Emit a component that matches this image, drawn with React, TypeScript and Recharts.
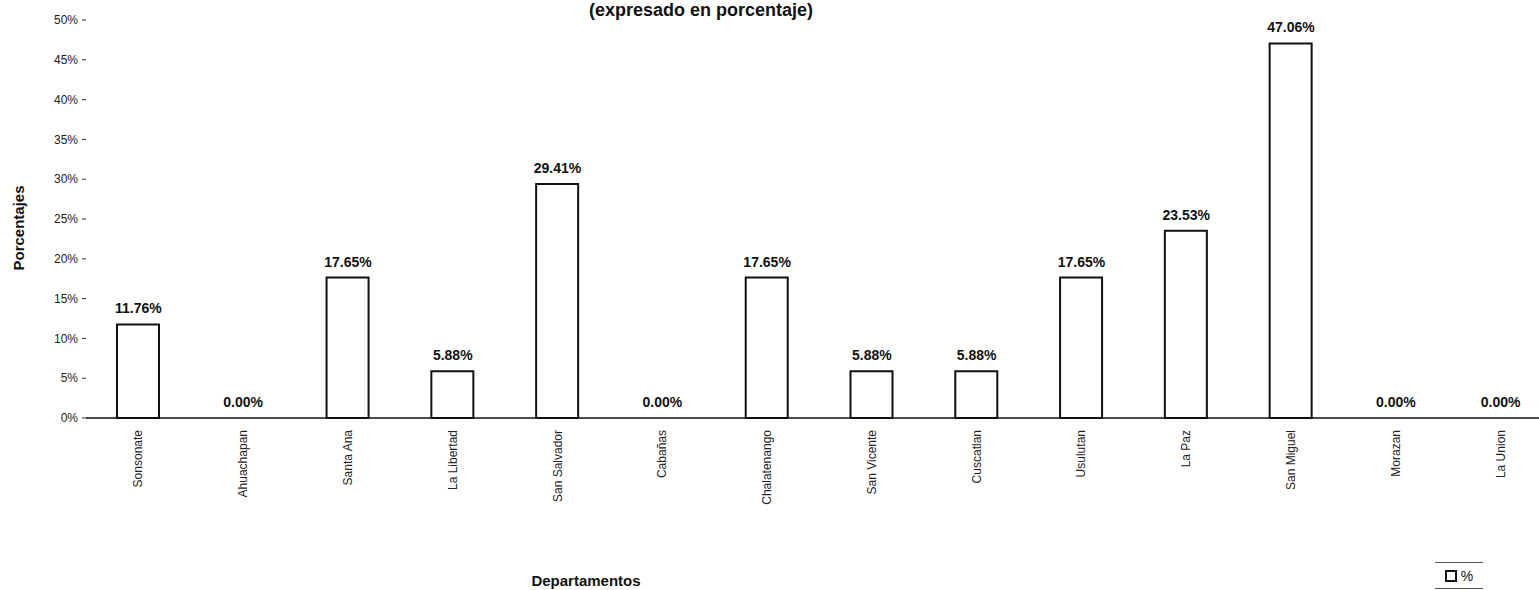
import { ComposedChart, Bar, Line, XAxis, YAxis, LabelList } from "recharts";

const departamentos = [
    "Sonsonate", "Ahuachapan", "Santa Ana", "La Libertad", "San Salvador", "Cabañas", "Chalatenango",
    "San Vicente", "Cuscatlan", "Usulutan", "La Paz", "San Miguel", "Morazan", "La Union",
];
const porcentajes = [11.76, 0, 17.65, 5.88, 29.41, 0, 17.65, 5.88, 5.88, 17.65, 23.53, 47.06, 0, 0];
const yTicks = [0, 5, 10, 15, 20, 25, 30, 35, 40, 45, 50];

const data = departamentos.map((d, i) => ({ name: d, value: porcentajes[i] }));

const FONT = "'Liberation Sans', Arial, sans-serif";

// vertical category labels, read bottom to top
function DeptTick({ x, y, payload }: any) {
    return (
        <text x={x} y={y} transform={`rotate(-90, ${x}, ${y})`} textAnchor="end" dominantBaseline="central"
            fontFamily={FONT} fontSize={12} fill="#222">
            {payload.value}
        </text>
    );
}

// value label over every bar, zeros included
function ValueLabel({ x, y, value }: any) {
    return (
        <text x={x} y={y - 11} textAnchor="middle" fontFamily={FONT} fontSize={14} fontWeight="bold" fill="#111">
            {`${Number(value).toFixed(2)}%`}
        </text>
    );
}

export default function App() {
    return (
        <div style={{ position: "absolute", left: 0, top: 0, width: 1539, height: 590, overflow: "hidden", background: "#fff", fontFamily: FONT }}>
            <div style={{ position: "absolute", left: 701, top: 0, lineHeight: "20px", transform: "translateX(-50%)", whiteSpace: "nowrap", fontSize: 18, fontWeight: "bold", color: "#111" }}>
                (expresado en porcentaje)
            </div>
            <div style={{ position: "absolute", left: 18, top: 228, transform: "translate(-50%, -50%) rotate(-90deg)", whiteSpace: "nowrap", fontSize: 15, fontWeight: "bold", color: "#111" }}>
                Porcentajes
            </div>
            <div style={{ position: "absolute", left: 586, top: 580, transform: "translate(-50%, -50%)", whiteSpace: "nowrap", fontSize: 15, fontWeight: "bold", color: "#111" }}>
                Departamentos
            </div>
            <div style={{ position: "absolute", left: 1435, top: 562, width: 48, height: 25, borderTop: "1px solid #555", borderBottom: "1px solid #555", display: "flex", alignItems: "center", justifyContent: "center", gap: 4, fontSize: 14, color: "#111" }}>
                <span style={{ display: "inline-block", width: 8, height: 8, border: "2px solid #111" }} />
                <span>%</span>
            </div>
            <ComposedChart width={1560} height={590} data={data} margin={{ top: 20, right: 7, left: 0, bottom: 0 }}>
                <XAxis dataKey="name" height={172} interval={0} tickLine={false} tickSize={0} tickMargin={12}
                    axisLine={{ stroke: "#111", strokeWidth: 1.5 }} tick={<DeptTick />} />
                <YAxis width={86} domain={[0, 50]} ticks={yTicks} axisLine={false} tickSize={4} tickMargin={4}
                    tickLine={{ stroke: "#333" }} tickFormatter={v => `${v}%`}
                    tick={{ fill: "#222", fontSize: 12, fontFamily: FONT }} />
                <Bar dataKey="value" barSize={42} fill="#fff" stroke="#111" strokeWidth={2} isAnimationActive={false} />
                <Line dataKey="value" type="linear" stroke="none" dot={false} activeDot={false} legendType="none"
                    isAnimationActive={false}>
                    <LabelList dataKey="value" content={<ValueLabel />} />
                </Line>
            </ComposedChart>
        </div>
    );
}
